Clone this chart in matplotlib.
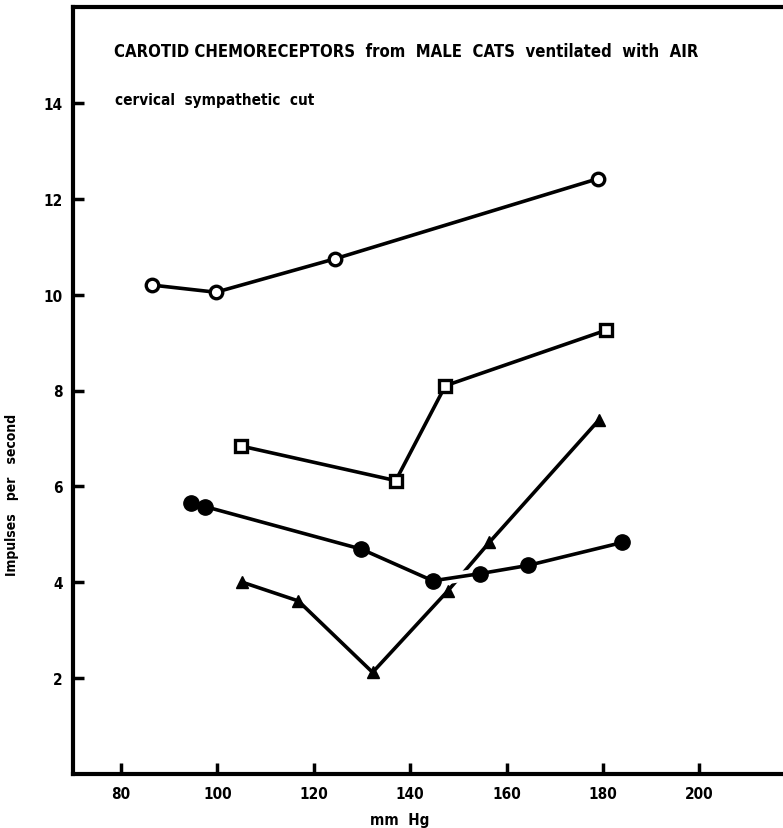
import numpy as np
import matplotlib
matplotlib.use('Agg')
import matplotlib.pyplot as plt
import matplotlib.patheffects as pe

plt.rcParams['font.family'] = ['DejaVu Sans']
plt.rcParams['font.weight'] = 'bold'
plt.rcParams['font.stretch'] = 'condensed'

# open circles
x_open = [86.4, 99.7, 124.5, 179.0]
y_open = [10.2, 10.05, 10.75, 12.42]
# open squares
x_sq = [105.0, 137.0, 147.3, 180.7]
y_sq = [6.84, 6.12, 8.1, 9.26]
# filled triangles
x_tri = [105.2, 116.8, 132.2, 147.8, 156.4, 179.1]
y_tri = [4.0, 3.61, 2.12, 3.82, 4.83, 7.38]
# filled circles
x_fill = [94.5, 97.4, 129.9, 144.7, 154.5, 164.4, 184.0]
y_fill = [5.65, 5.58, 4.69, 4.03, 4.18, 4.35, 4.83]

xticks = [80, 100, 120, 140, 160, 180, 200]
yticks = [2, 4, 6, 8, 10, 12, 14]

W, H = 783, 829
fig = plt.figure(figsize=(W/100, H/100), dpi=100)
# right side of the frame runs off the picture
ax = fig.add_axes([72.7/W, (H-775)/H, (820-72.7)/W, 767/H])

lw = 2.6
ax.plot(x_open, y_open, '-o', color='black', lw=lw, ms=9, mfc='white', mec='black', mew=2.4, zorder=3)
ax.plot(x_sq, y_sq, '-s', color='black', lw=lw, ms=8, mfc='white', mec='black', mew=2.4, zorder=3)
ax.plot(x_tri, y_tri, '-^', color='black', lw=lw, ms=9, zorder=3)
# the filled-circle line breaks the triangle line where they cross
ax.plot(x_fill, y_fill, '-', color='black', lw=lw, zorder=4,
        path_effects=[pe.Stroke(linewidth=8, foreground='white'), pe.Normal()])
ax.plot(x_fill, y_fill, 'o', color='black', ms=11, zorder=5)

ax.set_xlim(70, 225)
ax.set_ylim(0, 16)
ax.set_xticks(xticks)
ax.set_yticks(yticks)
ax.tick_params(direction='in', length=8, width=2.5, labelsize=11, pad=9)
ax.tick_params(axis='y', pad=7)
for s in ax.spines.values():
    s.set_linewidth(3)

ax.set_xlabel('mm  Hg', fontsize=11, fontweight='bold')
ax.xaxis.set_label_coords((400-72.7)/(820-72.7), -(813-775)/767)
ax.set_ylabel('Impulses   per   second', fontsize=10, fontweight='bold')
ax.yaxis.set_label_coords(-(72.7-19)/(820-72.7), (775-495)/767)

fig.text(114/W, 1-52/H, 'CAROTID CHEMORECEPTORS  from  MALE  CATS  ventilated  with  AIR',
         fontsize=12, fontweight='bold', va='center', ha='left')
fig.text(115/W, 1-100/H, 'cervical  sympathetic  cut',
         fontsize=11, fontweight='bold', va='center', ha='left')

fig.savefig('out.png', dpi=100)
